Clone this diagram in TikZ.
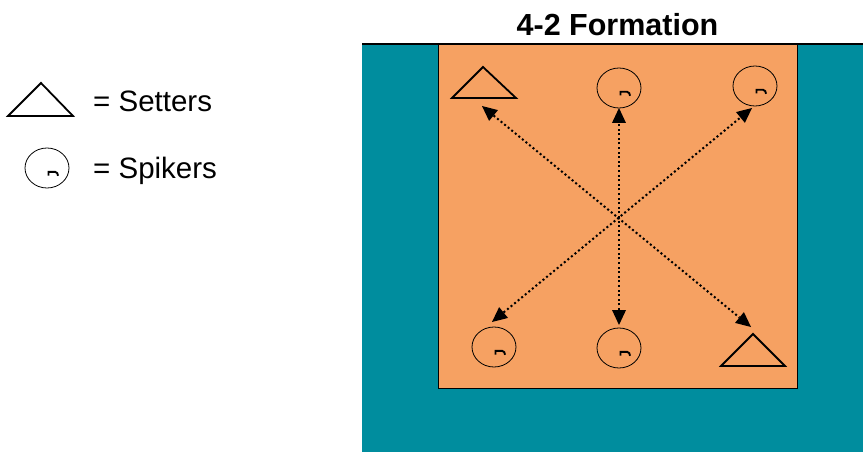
\documentclass[tikz,border=0pt]{standalone}
\usepackage{fontspec}
\setmainfont{Liberation Sans}
\usetikzlibrary{arrows.meta,calc}
\definecolor{teal2}{RGB}{0,141,158}
\definecolor{court}{RGB}{246,161,98}
\tikzset{
  setter/.style={draw=black, line width=1.8pt, line join=miter},
  ring/.style={draw=black, line width=0.8pt},
  head/.style={fill=black},
  pass/.style={line width=2pt, dash pattern=on 2pt off 2.6pt},
  lbl/.style={anchor=base west, font=\fontsize{29.5}{32}\selectfont, inner sep=0pt}
}
% #1 tip, #2 other end
\newcommand{\headat}[2]{%
  \path[head] let \p1=($(#2)-(#1)$), \n1={atan2(\y1,\x1)} in
    (#1) -- ++(\n1+25:16.5pt) -- ++(\n1-90:14pt) -- cycle;}
\newcommand{\passline}[2]{%
  \draw[pass] ($(#1)!15pt!(#2)$) -- ($(#2)!15pt!(#1)$);
  \headat{#1}{#2}\headat{#2}{#1}}
\newcommand{\spikermark}[1]{%
  \draw[ring] (#1) ellipse [x radius=22pt, y radius=20pt];
  \begin{scope}[shift={(#1)}]
    \draw[line width=1.9pt] (1.5,7.5) -- (1.5,3.8) -- (8,3.8) to[out=0,in=90] (11,7.8);
  \end{scope}}
\begin{document}
\begin{tikzpicture}[x=1pt,y=-1pt]
\useasboundingbox (0,0) rectangle (863,452);
% teal area and court
\fill[teal2] (362,44) rectangle (863,452);
\fill[court] (438,45) rectangle (797,388);
\draw[line width=0.8pt] (438,45) -- (438,388) -- (797,388) -- (797,45);
\draw[line width=2.2pt] (362,44) -- (863,44);
\node[font=\bfseries\fontsize{30.5}{32}\selectfont, anchor=base, inner sep=0pt] (title) at (617.5,36) {4-2 Formation};
% legend
\coordinate (la) at (41,83);
\draw[setter] (la) -- (73,116) -- (8,116) -- cycle;
\node[lbl] (lsett) at (93,112) {= Setters};
\coordinate (lspk) at (47,168);
\spikermark{lspk}
\node[lbl] (lspkt) at (93,178) {= Spikers};
% players
\coordinate (tlA) at (483,67);
\draw[setter] (tlA) -- (516,98) -- (452,98) -- cycle;
\coordinate (brA) at (753,334);
\draw[setter] (brA) -- (785,366) -- (721,366) -- cycle;
\coordinate (tm) at (619,88);
\spikermark{tm}
\coordinate (tr) at (755,86);
\spikermark{tr}
\coordinate (bl) at (494,347);
\spikermark{bl}
\coordinate (bm) at (619,348);
\spikermark{bm}
% arrow end points
\coordinate (p1) at (752,108);
\coordinate (p2) at (492,322);
\coordinate (p3) at (619,108);
\coordinate (p4) at (619,325);
\coordinate (p5) at (482,106);
\coordinate (p6) at (751,327);
\passline{p2}{p1}
\passline{p4}{p3}
\passline{p5}{p6}
\end{tikzpicture}
\end{document}
